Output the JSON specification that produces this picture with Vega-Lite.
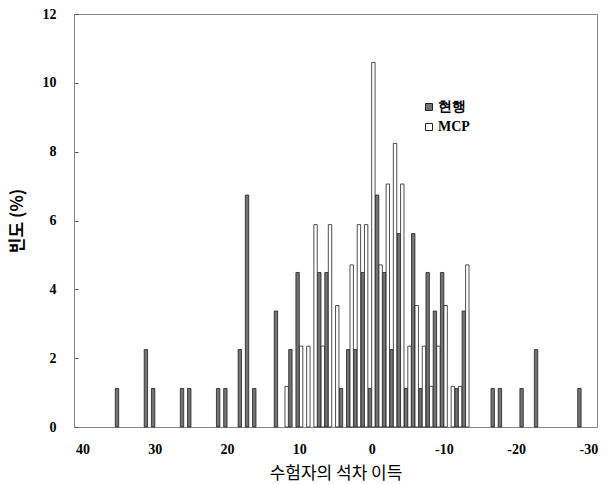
{
  "$schema": "https://vega.github.io/schema/vega-lite/v6.json",
  "autosize": {"type": "none"},
  "width": 523,
  "height": 413,
  "padding": {"left": 74, "top": 14, "right": 19, "bottom": 57},
  "background": "white",
  "config": {
    "view": {"stroke": "#888", "strokeWidth": 1},
    "axis": {"grid": false}
  },
  "data": {
    "values": [
      {"x": 35, "s": "현행", "p": 1.12},
      {"x": 31, "s": "현행", "p": 2.25},
      {"x": 30, "s": "현행", "p": 1.12},
      {"x": 26, "s": "현행", "p": 1.12},
      {"x": 25, "s": "현행", "p": 1.12},
      {"x": 21, "s": "현행", "p": 1.12},
      {"x": 20, "s": "현행", "p": 1.12},
      {"x": 18, "s": "현행", "p": 2.25},
      {"x": 17, "s": "현행", "p": 6.74},
      {"x": 16, "s": "현행", "p": 1.12},
      {"x": 13, "s": "현행", "p": 3.37},
      {"x": 11, "s": "현행", "p": 2.25},
      {"x": 10, "s": "현행", "p": 4.49},
      {"x": 7, "s": "현행", "p": 4.49},
      {"x": 6, "s": "현행", "p": 4.49},
      {"x": 4, "s": "현행", "p": 1.12},
      {"x": 3, "s": "현행", "p": 2.25},
      {"x": 2, "s": "현행", "p": 2.25},
      {"x": 1, "s": "현행", "p": 4.49},
      {"x": 0, "s": "현행", "p": 1.12},
      {"x": -1, "s": "현행", "p": 6.74},
      {"x": -2, "s": "현행", "p": 4.49},
      {"x": -3, "s": "현행", "p": 2.25},
      {"x": -4, "s": "현행", "p": 5.62},
      {"x": -5, "s": "현행", "p": 1.12},
      {"x": -6, "s": "현행", "p": 5.62},
      {"x": -7, "s": "현행", "p": 1.12},
      {"x": -8, "s": "현행", "p": 4.49},
      {"x": -9, "s": "현행", "p": 3.37},
      {"x": -10, "s": "현행", "p": 4.49},
      {"x": -12, "s": "현행", "p": 1.12},
      {"x": -13, "s": "현행", "p": 3.37},
      {"x": -17, "s": "현행", "p": 1.12},
      {"x": -18, "s": "현행", "p": 1.12},
      {"x": -21, "s": "현행", "p": 1.12},
      {"x": -23, "s": "현행", "p": 2.25},
      {"x": -29, "s": "현행", "p": 1.12},
      {"x": 12, "s": "MCP", "p": 1.18},
      {"x": 10, "s": "MCP", "p": 2.35},
      {"x": 9, "s": "MCP", "p": 2.35},
      {"x": 8, "s": "MCP", "p": 5.88},
      {"x": 7, "s": "MCP", "p": 2.35},
      {"x": 6, "s": "MCP", "p": 5.88},
      {"x": 5, "s": "MCP", "p": 3.53},
      {"x": 3, "s": "MCP", "p": 4.71},
      {"x": 2, "s": "MCP", "p": 5.88},
      {"x": 1, "s": "MCP", "p": 5.88},
      {"x": 0, "s": "MCP", "p": 10.59},
      {"x": -1, "s": "MCP", "p": 4.71},
      {"x": -2, "s": "MCP", "p": 7.06},
      {"x": -3, "s": "MCP", "p": 8.24},
      {"x": -4, "s": "MCP", "p": 7.06},
      {"x": -5, "s": "MCP", "p": 2.35},
      {"x": -6, "s": "MCP", "p": 3.53},
      {"x": -7, "s": "MCP", "p": 2.35},
      {"x": -8, "s": "MCP", "p": 1.18},
      {"x": -9, "s": "MCP", "p": 2.35},
      {"x": -10, "s": "MCP", "p": 3.53},
      {"x": -11, "s": "MCP", "p": 1.18},
      {"x": -12, "s": "MCP", "p": 1.18},
      {"x": -13, "s": "MCP", "p": 4.71}
    ]
  },
  "encoding": {
    "x": {
      "field": "x", "type": "quantitative",
      "scale": {"domain": [-30.5, 40.5], "reverse": true, "nice": false, "zero": false},
      "axis": {
        "values": [40, 30, 20, 10, 0, -10, -20, -30],
        "labelExpr": "datum.value < 0 ? '-' + abs(datum.value) : '' + datum.value",
        "title": "수험자의 석차 이득",
        "titleFont": "Noto Sans CJK KR", "titleFontSize": 17, "titleFontWeight": "normal", "titleColor": "#000",
        "titlePadding": 9,
        "labelFont": "Liberation Serif", "labelFontSize": 14, "labelFontWeight": "bold", "labelColor": "#000",
        "labelPadding": 15,
        "ticks": false,
        "domainColor": "#888",
        "labelFlush": false
      }
    },
    "y": {
      "field": "p", "type": "quantitative",
      "scale": {"domain": [0, 12], "nice": false},
      "axis": {
        "values": [0, 2, 4, 6, 8, 10, 12],
        "title": "빈도 (%)",
        "titleFont": "Noto Sans CJK KR", "titleFontSize": 17, "titleFontWeight": "bold", "titleColor": "#000",
        "titlePadding": 16,
        "labelFont": "Liberation Serif", "labelFontSize": 14, "labelFontWeight": "bold", "labelColor": "#000",
        "tickSize": -4, "tickColor": "#555",
        "labelPadding": 22,
        "domainColor": "#888",
        "labelFlush": false
      }
    },
    "color": {
      "field": "s", "type": "nominal",
      "scale": {"domain": ["현행", "MCP"], "range": ["#737373", "#ffffff"]},
      "legend": {
        "title": null,
        "orient": "none",
        "legendX": 348,
        "legendY": 86,
        "symbolType": "square",
        "symbolSize": 49,
        "symbolStrokeColor": "#222",
        "symbolStrokeWidth": 1,
        "labelFont": "Liberation Serif",
        "labelFontSize": 14,
        "labelFontWeight": "bold",
        "labelColor": "#000",
        "labelOffset": 2,
        "rowPadding": 6,
        "padding": 0
      }
    }
  },
  "layer": [
    {
      "transform": [{"filter": "datum.s === '현행'"}],
      "mark": {"type": "bar", "width": 3.4, "xOffset": -1.75, "stroke": "#222", "strokeWidth": 0.8}
    },
    {
      "transform": [{"filter": "datum.s === 'MCP'"}],
      "mark": {"type": "bar", "width": 3.4, "xOffset": 1.75, "stroke": "#222", "strokeWidth": 0.8}
    }
  ]
}
